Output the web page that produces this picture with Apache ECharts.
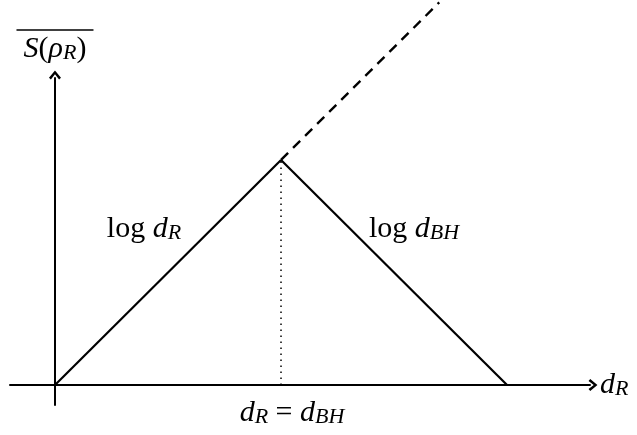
<!DOCTYPE html>
<html>
<head>
<meta charset="utf-8">
<script src="https://cdn.jsdelivr.net/npm/echarts@6/dist/echarts.min.js"></script>
<style>
  html, body { margin: 0; padding: 0; background: #fff; }
  #chart { width: 637px; height: 435px; }
</style>
</head>
<body>
<div id="chart"></div>
<script>
// Page curve sketch: entanglement entropy of the radiation vs. its dimension (log units)
const dR = [0, 1, 2];                 // log d_R at start, Page point, end of evaporation
const pageEntropy = [0, 1, 0];        // S(rho_R): rises as log d_R, falls as log d_BH
const naiveGrowth = [[1, 1], [1.7, 1.7]]; // continuation of log d_R past the Page point
const pagePoint = [[1, 0], [1, 1]];   // d_R = d_BH

const FONT = 'Liberation Serif';
const BLACK = '#000';

const risingBranch = [[dR[0], pageEntropy[0]], [dR[1], pageEntropy[1]]];
const fallingBranch = [[dR[1], pageEntropy[1]], [dR[2], pageEntropy[2]]];
const mid = (seg) => [(seg[0][0] + seg[1][0]) / 2, (seg[0][1] + seg[1][1]) / 2];

const rich = {
  it: { fontFamily: FONT, fontStyle: 'italic', fontSize: 30, lineHeight: 30, color: BLACK },
  rm: { fontFamily: FONT, fontSize: 30, lineHeight: 30, color: BLACK },
  sub: { fontFamily: FONT, fontStyle: 'italic', fontSize: 22, lineHeight: 22, color: BLACK, verticalAlign: 'bottom', padding: [17, 0, 0, 0] },
  bar: { backgroundColor: BLACK, width: 77, height: 1.4, lineHeight: 8 }
};

// open LaTeX-style arrow head
const chevron = 'path://M5,0 L10,6 L8.4,7.4 L5,3.1 L1.6,7.4 L0,6 Z';

// invisible anchor symbol that still carries a visible label
const hiddenAnchor = { symbol: 'circle', symbolSize: 1, itemStyle: { color: 'rgba(0,0,0,0)' }, silent: true };

const chart = echarts.init(document.getElementById('chart'), null, { renderer: 'canvas' });

chart.setOption({
  animation: false,
  backgroundColor: '#fff',
  grid: { left: 10, right: 47, top: 78, bottom: 30 },
  xAxis: {
    type: 'value',
    min: -0.199, max: 2.367,
    axisLine: { show: true, onZero: true, lineStyle: { color: BLACK, width: 2 }, symbol: ['none', chevron], symbolSize: [12, 9], symbolOffset: [0, 3] },
    axisTick: { show: false }, axisLabel: { show: false }, splitLine: { show: false },
    name: '{it|d}{sub|R}',
    nameLocation: 'end', nameGap: 10,
    nameTextStyle: { rich: rich, align: 'left', verticalAlign: 'middle' }
  },
  yAxis: {
    type: 'value',
    min: -0.0889, max: 1.364,
    axisLine: { show: true, onZero: true, lineStyle: { color: BLACK, width: 2 }, symbol: ['none', chevron], symbolSize: [12, 9], symbolOffset: [0, 3] },
    axisTick: { show: false }, axisLabel: { show: false }, splitLine: { show: false },
    name: '{bar|}\n{it|S}{rm|(}{it|ρ}{sub|R}{rm|)}',
    nameLocation: 'end', nameGap: 14,
    nameTextStyle: { rich: rich, align: 'center', verticalAlign: 'bottom' }
  },
  series: [
    {
      type: 'line', name: 'log dR', data: risingBranch, symbol: 'none',
      lineStyle: { color: BLACK, width: 2.2 },
      markPoint: Object.assign({}, hiddenAnchor, {
        data: [{ coord: mid(risingBranch), label: { show: true, formatter: '{rm|log }{it|d}{sub|R}', offset: [-24, -43], rich: rich } }]
      })
    },
    {
      type: 'line', name: 'log dBH', data: fallingBranch, symbol: 'none',
      lineStyle: { color: BLACK, width: 2.2 },
      markPoint: Object.assign({}, hiddenAnchor, {
        data: [{ coord: mid(fallingBranch), label: { show: true, formatter: '{rm|log }{it|d}{sub|BH}', offset: [20, -43], rich: rich } }]
      })
    },
    {
      type: 'line', name: 'naive', data: naiveGrowth, symbol: 'none', clip: false,
      lineStyle: { color: BLACK, width: 2.4, type: [10, 7] }
    },
    {
      type: 'line', name: 'page', data: pagePoint, symbol: 'none',
      lineStyle: { color: BLACK, width: 1.5, type: [1.5, 4.5] },
      markPoint: Object.assign({}, hiddenAnchor, {
        data: [{ coord: pagePoint[0], label: { show: true, formatter: '{it|d}{sub|R}{rm| = }{it|d}{sub|BH}', offset: [11, 28], rich: rich } }]
      })
    }
  ]
});
</script>
</body>
</html>
